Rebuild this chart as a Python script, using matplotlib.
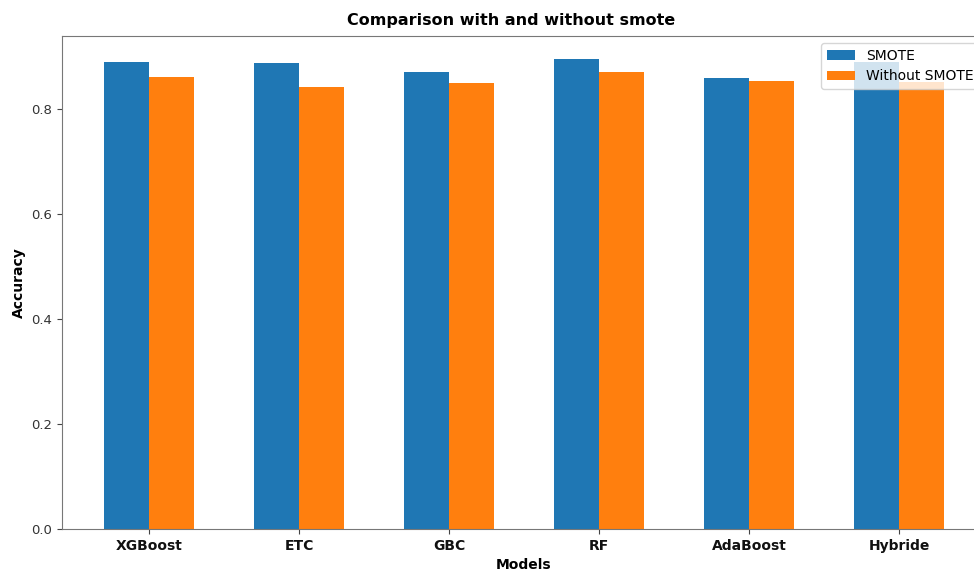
import numpy as np
import matplotlib
matplotlib.use("Agg")
import matplotlib.pyplot as plt

models = ["XGBoost", "ETC", "GBC", "RF", "AdaBoost", "Hybride"]
smote = [0.890, 0.887, 0.870, 0.894, 0.858, 0.890]
without_smote = [0.861, 0.842, 0.850, 0.871, 0.853, 0.852]

x = np.arange(len(models))
w = 0.3

fig = plt.figure(figsize=(9.74, 5.71), dpi=100)
# the picture is cropped on the right, so the axes run past the figure edge
ax = fig.add_axes([62/974, 42/571, 924/974, 493/571])

ax.bar(x - w/2, smote, w, color="#1f77b4", label="SMOTE")
ax.bar(x + w/2, without_smote, w, color="#ff7f0e", label="Without SMOTE")

ax.set_xticks(x)
ax.set_xticklabels(models, fontsize=10, fontweight="bold")
ax.tick_params(axis="y", labelsize=9.5, colors="#444444", labelcolor="#333333")
ax.tick_params(axis="x", colors="#444444", labelcolor="#111111")
for s in ax.spines.values():
    s.set_color("#777777")
ax.spines["right"].set_visible(False)

ax.set_xlabel("Models", fontsize=10, fontweight="bold", labelpad=4)
ax.set_ylabel("Accuracy", fontsize=10, fontweight="bold")
ax.set_title("Comparison with and without smote", fontsize=11.5, fontweight="bold",
             x=0.486, pad=8)
ax.legend(loc="upper right", fontsize=10)

plt.savefig("out.png", dpi=100)
